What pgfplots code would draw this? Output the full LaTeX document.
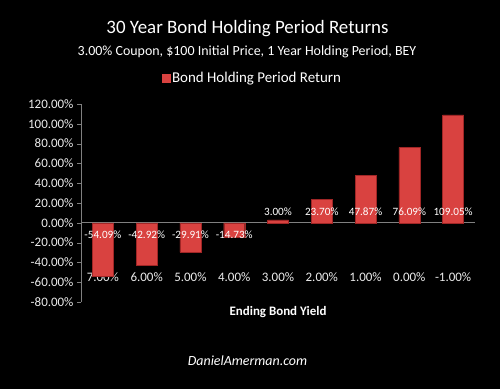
\documentclass[border=0pt]{standalone}
\usepackage{pgfplots}
\pgfplotsset{compat=1.18}
\usepackage{fontspec}
\setmainfont{Carlito}
\definecolor{barred}{RGB}{217,66,64}
\definecolor{bardark}{RGB}{160,38,38}
\definecolor{axgray}{RGB}{128,128,128}
\definecolor{lbl}{RGB}{235,235,235}
\begin{document}
\begin{tikzpicture}[x=1bp,y=1bp]
\fill[black] (0,0) rectangle (500,389);
\path[use as bounding box] (0,0) rectangle (500,389);
\node[text=white,font=\fontsize{19}{22}\selectfont] at (247.5,360) {30 Year Bond Holding Period Returns};
\node[text=white,font=\fontsize{14}{16}\selectfont] at (247,337) {3.00\% Coupon, \$100 Initial Price, 1 Year Holding Period, BEY};
\node[text=white,font=\bfseries\fontsize{13}{15}\selectfont] at (278,77) {Ending Bond Yield};
\node[text=white,font=\itshape\fontsize{14}{16}\selectfont] at (247.5,28) {DanielAmerman.com};
\begin{axis}[
  at={(81bp,87bp)}, anchor=south west,
  scale only axis, width=394bp, height=198bp,
  xmin=-0.5, xmax=8.5, ymin=-80, ymax=120,
  axis x line=middle, axis y line=left,
  axis line style={-, axgray, line width=0.8bp},
  tick align=outside,
  xtick={0,...,8},
  xticklabels={7.00\%,6.00\%,5.00\%,4.00\%,3.00\%,2.00\%,1.00\%,0.00\%,-1.00\%},
  major x tick style={draw=none},
  xticklabel style={text=lbl, font=\fontsize{13}{15}\selectfont, yshift=-42bp},
  ytick={-80,-60,...,120},
  yticklabels={-80.00\%,-60.00\%,-40.00\%,-20.00\%,0.00\%,20.00\%,40.00\%,60.00\%,80.00\%,100.00\%,120.00\%},
  yticklabel style={text=lbl, font=\fontsize{13}{15}\selectfont},
  major tick length=4bp,
  ytick style={axgray},
  legend style={at={(0.435,1.131)}, anchor=center, draw=none, fill=none, text=white, font=\fontsize{15}{17}\selectfont, legend cell align=left},
  legend image code/.code={\fill[barred] (-3bp,-4bp) rectangle (5bp,4bp);},
  clip=false,
]
\addplot[ybar, bar width=21bp, fill=barred, draw=bardark, line width=0.4bp] coordinates {
  (0,-54.09) (1,-42.92) (2,-29.91) (3,-14.73) (4,3.00) (5,23.70) (6,47.87) (7,76.09) (8,109.05)
};
\addlegendentry{Bond Holding Period Return}
\addplot[draw=none, mark=none, forget plot, nodes near coords, point meta=explicit symbolic,
  every node near coord/.style={anchor=center, text=white, font=\fontsize{11.2}{13}\selectfont}] coordinates {
  (0,-12.4) [-54.09\%] (1,-12.4) [-42.92\%] (2,-12.4) [-29.91\%] (3,-12.4) [-14.73\%]
  (4,10.8) [3.00\%] (5,10.8) [23.70\%] (6,10.8) [47.87\%] (7,10.8) [76.09\%] (8,10.8) [109.05\%]
};
\end{axis}
\end{tikzpicture}
\end{document}
